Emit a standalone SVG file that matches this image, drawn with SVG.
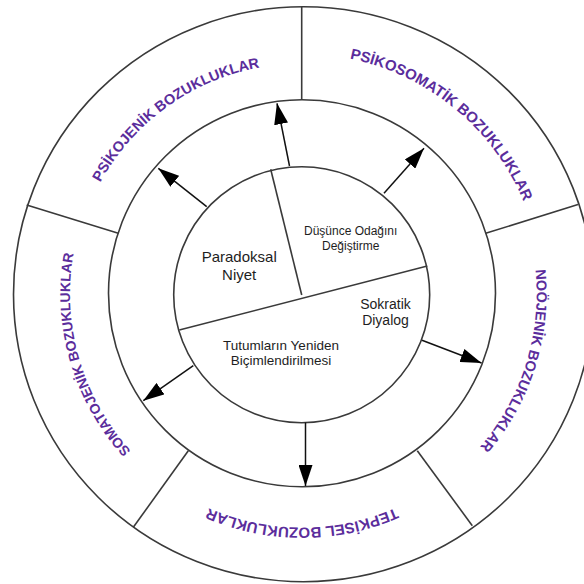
<svg xmlns="http://www.w3.org/2000/svg" width="584" height="584" viewBox="0 0 584 584">
<style>
.ring{fill:none;stroke:#3a3a3a;stroke-width:1.6}
.div{stroke:#3a3a3a;stroke-width:1.6}
.arr{stroke:#111;stroke-width:1.5;marker-end:url(#ah)}
.lbl{font-family:"Liberation Sans",Arial,sans-serif;font-weight:bold;font-size:15px;fill:#5b2d9c}
.in{font-family:"Liberation Sans",Arial,sans-serif;fill:#1e1e1e;text-anchor:middle}
</style>
<defs>
<marker id="ah" markerUnits="userSpaceOnUse" markerWidth="21" markerHeight="14" refX="21" refY="7" orient="auto">
<path d="M0,0 L21,7 L0,14 Z" fill="#000"/>
</marker>
<path id="p1" d="M74.37,257.13 A230.6,230.6 0 0 1 338.87,66.37"/>
<path id="p2" d="M278.57,55.05 A240.1,240.1 0 0 1 540.95,270.57"/>
<path id="p3" d="M509.90,185.31 A234.6,234.6 0 0 1 410.69,501.90"/>
<path id="p4" d="M467.18,459.18 A233.6,233.6 0 0 1 136.82,459.18"/>
<path id="p5" d="M190.41,497.40 A232,232 0 0 1 98.60,182.41"/>
</defs>
<rect width="584" height="584" fill="#fff"/>
<g id="rings">
<ellipse class="ring" cx="303.5" cy="294.2" rx="290" ry="287.5"/>
<circle class="ring" cx="302" cy="293.3" r="193.5"/>
</g>
<g id="outer-dividers">
<line class="div" x1="301.7" y1="6.7" x2="301.7" y2="100"/>
<line class="div" x1="485.7" y1="233.3" x2="578" y2="204.5"/>
<line class="div" x1="417.3" y1="450.7" x2="472.3" y2="525.7"/>
<line class="div" x1="188.3" y1="450.7" x2="133.3" y2="527.3"/>
<line class="div" x1="26.7" y1="205" x2="118.3" y2="233.3"/>
</g>
<g id="psikojenik"><text class="lbl" style="font-size:14.5px"><textPath href="#p1" startOffset="50%" text-anchor="middle">PSİKOJENİK BOZUKLUKLAR</textPath></text></g>
<g id="psikosomatik"><text class="lbl"><textPath href="#p2" startOffset="50%" text-anchor="middle">PSİKOSOMATİK BOZUKLUKLAR</textPath></text></g>
<g id="noojenik"><text class="lbl" style="font-size:14.5px"><textPath href="#p3" startOffset="50%" text-anchor="middle">NOÖJENİK BOZUKLUKLAR</textPath></text></g>
<g id="tepkisel"><text class="lbl"><textPath href="#p4" startOffset="50%" text-anchor="middle">TEPKİSEL BOZUKLUKLAR</textPath></text></g>
<g id="somatojenik"><text class="lbl" style="font-size:14px"><textPath href="#p5" startOffset="50%" text-anchor="middle">SOMATOJENİK BOZUKLUKLAR</textPath></text></g>
<g id="core">
<circle class="ring" cx="301.7" cy="294.7" r="128"/>
<line class="div" x1="270.7" y1="169.3" x2="301.7" y2="295"/>
<line class="div" x1="179.3" y1="330" x2="427.3" y2="266"/>
</g>
<g id="paradoksal"><text class="in" font-size="15"><tspan x="239.2" y="262">Paradoksal</tspan><tspan x="239.2" y="280">Niyet</tspan></text></g>
<g id="dusunce"><text class="in" font-size="12"><tspan x="350.7" y="235">Düşünce Odağını</tspan><tspan x="350.7" y="250">Değiştirme</tspan></text></g>
<g id="sokratik"><text class="in" font-size="14"><tspan x="385.5" y="309">Sokratik</tspan><tspan x="385.5" y="325">Diyalog</tspan></text></g>
<g id="tutumlar"><text class="in" font-size="13.5"><tspan x="281" y="349.5">Tutumların Yeniden</tspan><tspan x="281" y="364.5">Biçimlendirilmesi</tspan></text></g>
<g id="connectors">
<line class="arr" x1="206.7" y1="206.7" x2="158.3" y2="168.3"/>
<line class="arr" x1="289.5" y1="166" x2="277" y2="103.3"/>
<line class="arr" x1="384" y1="193.3" x2="424" y2="148.3"/>
<line class="arr" x1="422" y1="340.3" x2="481.5" y2="363"/>
<line class="arr" x1="305.5" y1="422.5" x2="305.5" y2="486"/>
<line class="arr" x1="193.3" y1="365.7" x2="143.3" y2="400.7"/>
</g>
</svg>
